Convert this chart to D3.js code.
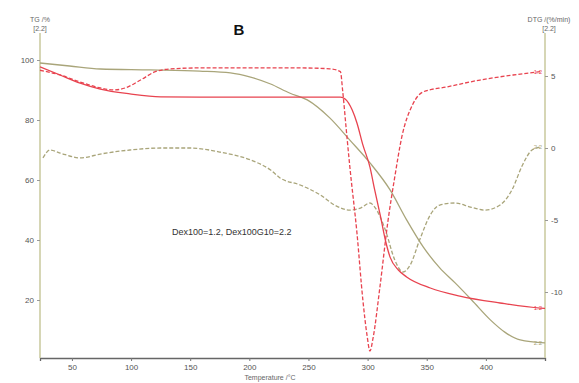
<!DOCTYPE html>
<html>
<head>
<meta charset="utf-8">
<script src="https://cdn.jsdelivr.net/npm/d3@7"></script>
<style>
  body { margin: 0; background: #fff; }
  svg text { font-family: "Liberation Sans", Arial, sans-serif; }
</style>
</head>
<body>
<figure id="tga" style="margin:0"></figure>
<script>
// temperature (°C) and values
const tgRedT   = [23, 40, 57, 74, 99, 125, 158, 201, 243, 277, 281, 287, 291, 296, 302, 306, 311, 315, 319, 326, 333, 353, 378, 412, 446, 450];
const tgRed    = [97.7, 95, 92.3, 90.3, 88.7, 87.7, 87.6, 87.6, 87.6, 87.6, 87, 83.3, 79, 71.7, 64.3, 56.7, 47.7, 40, 34.3, 30, 27.7, 24, 21.3, 19, 17.3, 17.2];

const tgOliveT = [23, 48, 74, 116, 158, 184, 201, 218, 234, 249, 268, 285, 302, 319, 333, 347, 361, 374, 388, 404, 416, 429, 450];
const tgOlive  = [99, 98, 97, 96.7, 96.3, 95.7, 94.3, 92, 89, 86.7, 80.7, 73.3, 65.7, 56.7, 46.7, 37.7, 30.7, 25.7, 20, 13.3, 9.3, 6.7, 5.7];

const dtgRedT  = [23, 40, 57, 74, 86, 95, 108, 120, 133, 158, 201, 243, 268, 277, 279, 282, 285, 291, 296, 299.5, 302, 304.6, 310.5, 317, 323, 329, 338, 347, 367, 395, 423, 446];
const dtgRed   = [5.4, 5.07, 4.58, 4.17, 4.03, 4.17, 4.72, 5.28, 5.49, 5.56, 5.56, 5.56, 5.5, 5.3, 3.9, 1.25, -1.32, -5.9, -10.56, -13, -14.1, -13.2, -9.6, -5.2, -2.0, 0.8, 3.0, 3.9, 4.24, 4.72, 5.07, 5.3];

const dtgOliveT = [25.5, 31.5, 40, 57, 74, 99, 125, 150, 175, 201, 218, 226, 243, 260, 272, 285, 294, 302, 306, 315, 323, 330, 336, 344, 353, 361, 374, 387, 399, 412, 422, 431, 439, 446];
const dtgOlive  = [-0.69, -0.14, -0.35, -0.69, -0.42, -0.14, 0, 0, -0.28, -0.83, -1.53, -2.08, -2.57, -3.26, -3.96, -4.31, -4.17, -3.82, -4.1, -5.69, -7.78, -8.61, -8.13, -6.39, -4.65, -3.96, -3.82, -4.1, -4.31, -3.96, -2.92, -1.18, -0.14, 0.07];

const xTicks = [50, 100, 150, 200, 250, 300, 350, 400];
const tgTicks = [20, 40, 60, 80, 100];
const dtgTicks = [-10, -5, 0, 5];

const width = 579, height = 383;
const plotLeft = 40, plotRight = 545, plotBottom = 358, plotTop = 33;
const red = "#e8434f", olive = "#a9a57a", axisOlive = "#c8c89c";

const svg = d3.select("figure#tga").append("svg")
  .attr("width", width).attr("height", height);

const x = d3.scaleLinear().domain([23, 450]).range([plotLeft, plotRight]);
const yTG = d3.scaleLinear().domain([0, 100]).range([360, 60]);
const yDTG = d3.scaleLinear().domain([0, 5]).range([148, 76]);

// axes
const xAxis = svg.append("g")
  .attr("transform", "translate(0," + plotBottom + ")")
  .call(d3.axisBottom(x).tickValues(xTicks).tickSize(3).tickPadding(3));
xAxis.select(".domain").attr("stroke", "#666").attr("stroke-width", 1.3);

const yAxisL = svg.append("g")
  .attr("transform", "translate(" + plotLeft + ",0)")
  .call(d3.axisLeft(yTG).tickValues(tgTicks).tickSize(3).tickPadding(3));
yAxisL.select(".domain").attr("d", "M0," + plotTop + "V" + plotBottom);

const yAxisR = svg.append("g")
  .attr("transform", "translate(" + plotRight + ",0)")
  .call(d3.axisRight(yDTG).tickValues(dtgTicks).tickSize(3).tickPadding(3)
    .tickFormat(d => d < 0 ? "-" + Math.abs(d) : d));
yAxisR.select(".domain").attr("d", "M0," + plotTop + "V" + plotBottom);

[yAxisL, yAxisR].forEach(a => {
  a.select(".domain").attr("stroke", axisOlive).attr("stroke-width", 1.5);
  a.selectAll(".tick line").attr("stroke", "#999");
});
svg.selectAll(".tick text").attr("fill", "#555").style("font-size", "8px");
xAxis.selectAll(".tick line").attr("stroke", "#777");

// curves
const line = (xs, ys, yScale) => d3.line()
  .x((d, i) => x(xs[i]))
  .y(d => yScale(d))
  .curve(d3.curveMonotoneX)(ys);

const series = [
  { xs: tgOliveT, ys: tgOlive, s: yTG, c: olive, dash: null },
  { xs: dtgOliveT, ys: dtgOlive, s: yDTG, c: olive, dash: "4,2" },
  { xs: tgRedT, ys: tgRed, s: yTG, c: red, dash: null },
  { xs: dtgRedT, ys: dtgRed, s: yDTG, c: red, dash: "4,2" }
];

svg.selectAll("path.curve")
  .data(series)
  .enter()
  .append("path")
  .attr("class", "curve")
  .attr("d", d => line(d.xs, d.ys, d.s))
  .attr("fill", "none")
  .attr("stroke", d => d.c)
  .attr("stroke-width", 1.3)
  .attr("stroke-dasharray", d => d.dash);

// small end labels
svg.selectAll("text.end")
  .data(series)
  .enter()
  .append("text")
  .attr("class", "end")
  .attr("x", plotRight - 3)
  .attr("y", d => d.s(d.ys[d.ys.length - 1]) + 2)
  .attr("text-anchor", "end")
  .attr("fill", d => d.c)
  .style("font-size", "6px")
  .text(d => d.c === red ? "1.2" : "2.2");

// titles
svg.append("text").attr("x", 40).attr("y", 22).attr("text-anchor", "middle")
  .attr("fill", "#666").style("font-size", "7px").text("TG /%");
svg.append("text").attr("x", 40).attr("y", 31).attr("text-anchor", "middle")
  .attr("fill", "#666").style("font-size", "7px").text("[2.2]");
svg.append("text").attr("x", 549).attr("y", 22).attr("text-anchor", "middle")
  .attr("fill", "#666").style("font-size", "7px").text("DTG /(%/min)");
svg.append("text").attr("x", 549).attr("y", 31).attr("text-anchor", "middle")
  .attr("fill", "#666").style("font-size", "7px").text("[2.2]");
svg.append("text").attr("x", 270).attr("y", 380).attr("text-anchor", "middle")
  .attr("fill", "#666").style("font-size", "7px").text("Temperature /°C");
svg.append("text").attr("x", 239).attr("y", 35).attr("text-anchor", "middle")
  .attr("fill", "#111").style("font-size", "15px").style("font-weight", "bold").text("B");
svg.append("text").attr("x", 172).attr("y", 235)
  .attr("fill", "#333").style("font-size", "9px").text("Dex100=1.2, Dex100G10=2.2");
</script>
</body>
</html>
